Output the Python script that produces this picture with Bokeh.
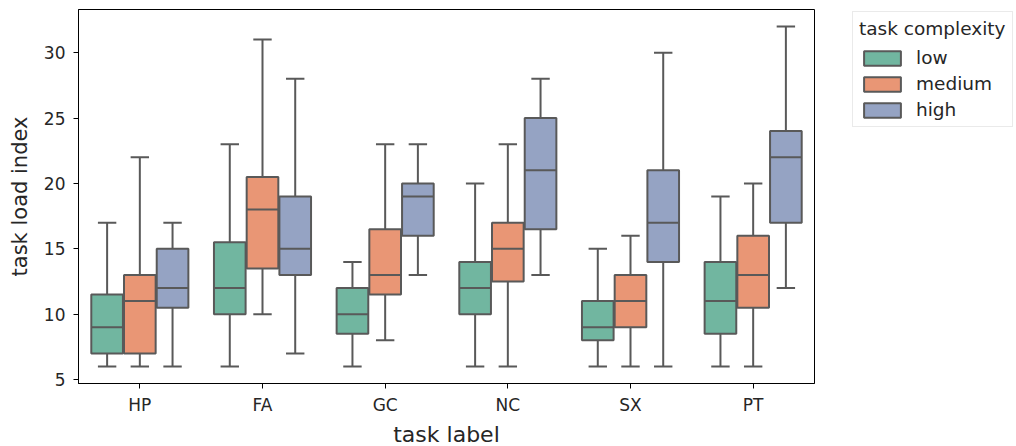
from bokeh.plotting import figure
from bokeh.models import ColumnDataSource, FactorRange, Range1d, FixedTicker, Legend, LegendItem
from bokeh.transform import dodge
from bokeh.embed import file_html
from bokeh.resources import INLINE

# ---- data ----
tasks = ["HP", "FA", "GC", "NC", "SX", "PT"]
complexity = ["low", "medium", "high"]

low_whislo = [6, 6, 6, 6, 6, 6]
low_q1 = [7, 10, 8.5, 10, 8, 8.5]
low_med = [9, 12, 10, 12, 9, 11]
low_q3 = [11.5, 15.5, 12, 14, 11, 14]
low_whishi = [17, 23, 14, 20, 15, 19]

medium_whislo = [6, 10, 8, 6, 6, 6]
medium_q1 = [7, 13.5, 11.5, 12.5, 9, 10.5]
medium_med = [11, 18, 13, 15, 11, 13]
medium_q3 = [13, 20.5, 16.5, 17, 13, 16]
medium_whishi = [22, 31, 23, 23, 16, 20]

high_whislo = [6, 7, 13, 13, 6, 12]
high_q1 = [10.5, 13, 16, 16.5, 14, 17]
high_med = [12, 15, 19, 21, 17, 22]
high_q3 = [15, 19, 20, 25, 21, 24]
high_whishi = [17, 28, 23, 28, 30, 32]

y_ticks = [5, 10, 15, 20, 25, 30]

series = {
    "low": (low_whislo, low_q1, low_med, low_q3, low_whishi),
    "medium": (medium_whislo, medium_q1, medium_med, medium_q3, medium_whishi),
    "high": (high_whislo, high_q1, high_med, high_q3, high_whishi),
}

# ---- style ----
colors = {"low": "#71b6a0", "medium": "#e99675", "high": "#95a3c3"}
offsets = {"low": -0.2667, "medium": 0.0, "high": 0.2667}
box_w = 0.258
cap_half = 0.075
edge = "#595959"
lw = 2
txt = "#262626"
FONT = "DejaVu Sans"

p = figure(
    x_range=FactorRange(*tasks),
    y_range=Range1d(4.7, 33.3),
    frame_width=736, frame_height=374,
    min_border_left=78, min_border_right=202,
    min_border_top=9, min_border_bottom=63,
    output_backend="svg", toolbar_location=None,
)
p.xgrid.visible = False
p.ygrid.visible = False
p.outline_line_color = "black"
p.outline_line_width = 1
p.background_fill_color = "white"
p.border_fill_color = "white"

legend_items = []
for c in complexity:
    wlo, q1, med, q3, whi = series[c]
    src = ColumnDataSource(dict(task=tasks, wlo=wlo, q1=q1, med=med, q3=q3, whi=whi))
    off = offsets[c]
    # whiskers
    p.segment(x0=dodge("task", off, range=p.x_range), y0="wlo",
              x1=dodge("task", off, range=p.x_range), y1="q1",
              source=src, line_color=edge, line_width=lw)
    p.segment(x0=dodge("task", off, range=p.x_range), y0="q3",
              x1=dodge("task", off, range=p.x_range), y1="whi",
              source=src, line_color=edge, line_width=lw)
    # caps
    p.segment(x0=dodge("task", off - cap_half, range=p.x_range), y0="wlo",
              x1=dodge("task", off + cap_half, range=p.x_range), y1="wlo",
              source=src, line_color=edge, line_width=lw)
    p.segment(x0=dodge("task", off - cap_half, range=p.x_range), y0="whi",
              x1=dodge("task", off + cap_half, range=p.x_range), y1="whi",
              source=src, line_color=edge, line_width=lw)
    # boxes
    r = p.vbar(x=dodge("task", off, range=p.x_range), top="q3", bottom="q1",
               width=box_w, source=src, fill_color=colors[c],
               line_color=edge, line_width=lw)
    # medians
    p.segment(x0=dodge("task", off - box_w / 2, range=p.x_range), y0="med",
              x1=dodge("task", off + box_w / 2, range=p.x_range), y1="med",
              source=src, line_color=edge, line_width=lw)
    legend_items.append(LegendItem(label=c, renderers=[r]))

# axes
for ax in (p.xaxis[0], p.yaxis[0]):
    ax.axis_line_color = "black"
    ax.axis_line_width = 1
    ax.major_tick_line_color = "black"
    ax.major_tick_out = 5
    ax.major_tick_in = 0
    ax.minor_tick_out = 0
    ax.minor_tick_in = 0
    ax.major_label_text_font = FONT
    ax.major_label_text_font_size = "17px"
    ax.major_label_text_color = txt
    ax.axis_label_text_font = FONT
    ax.axis_label_text_font_size = "22px"
    ax.axis_label_text_font_style = "normal"
    ax.axis_label_text_color = txt

p.yaxis.ticker = FixedTicker(ticks=y_ticks)
p.yaxis.major_label_standoff = 8
p.xaxis.major_label_standoff = 6
p.xaxis.axis_label = "task label"
p.yaxis.axis_label = "task load index"
p.yaxis.axis_label_text_font_size = "21px"
p.xaxis.axis_label_standoff = 4
p.yaxis.axis_label_standoff = 9

legend = Legend(
    items=legend_items,
    location=(38, 256),
    title="task complexity",
    title_text_font=FONT, title_text_font_size="18.5px",
    title_text_font_style="normal", title_text_color=txt,
    title_standoff=8,
    label_text_font=FONT, label_text_font_size="18.5px", label_text_color=txt,
    glyph_width=46, glyph_height=18,
    label_standoff=11, spacing=5,
    padding=6, margin=0,
    border_line_color="#d6d6d6", border_line_width=1,
    background_fill_color="white", background_fill_alpha=0.8,
)
p.add_layout(legend, "right")

open("out.html", "w").write(file_html(p, INLINE))
